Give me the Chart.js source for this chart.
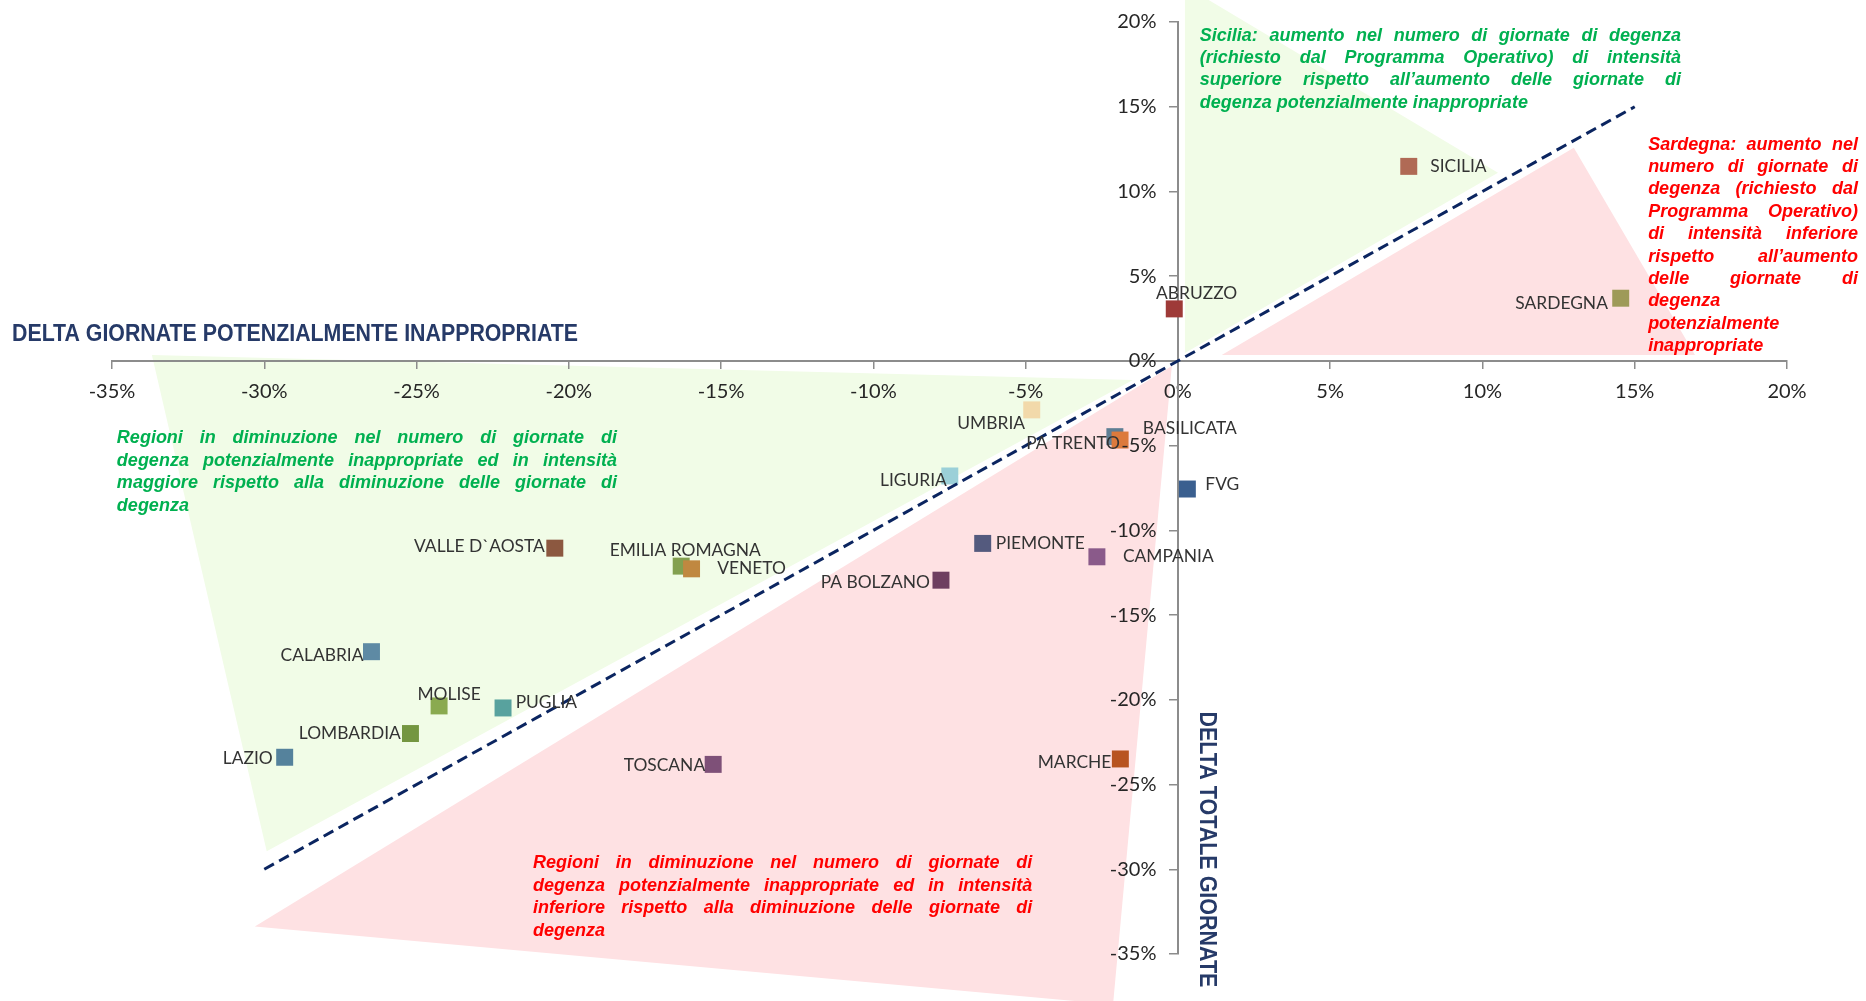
<!DOCTYPE html>
<html><head><meta charset="utf-8">
<script src="https://cdn.jsdelivr.net/npm/chart.js@4"></script>
<style>html,body{margin:0;padding:0;background:#fff}#wrap{width:1866px;height:1001px;position:relative}</style>
</head><body><div id="wrap"><canvas id="c"></canvas></div>
<script>
// ---- data ----
const regions = ['SICILIA','SARDEGNA','ABRUZZO','UMBRIA','BASILICATA','PA TRENTO','LIGURIA','FVG','PIEMONTE','CAMPANIA','PA BOLZANO','MARCHE','VALLE D`AOSTA','EMILIA ROMAGNA','VENETO','CALABRIA','MOLISE','PUGLIA','LOMBARDIA','LAZIO','TOSCANA'];
const deltaGiornateInappropriate = [7.58,14.54,-0.12,-4.80,-2.07,-1.90,-7.49,0.31,-6.41,-2.66,-7.78,-1.89,-20.46,-16.31,-15.97,-26.48,-24.26,-22.16,-25.20,-29.33,-15.26];
const deltaTotaleGiornate = [11.48,3.70,3.07,-2.89,-4.47,-4.67,-6.79,-7.56,-10.77,-11.56,-12.94,-23.49,-11.05,-12.11,-12.27,-17.16,-20.36,-20.48,-21.99,-23.39,-23.81];
const regionColors = ['#B06A55','#9E9A58','#9E3A38','#F2D9AA','#5E7E94','#DC7A3C','#9BD0D8','#3A5F8F','#545A7E','#8A5A8A','#6E3E60','#B85420','#8C5840','#83A050','#C08840','#5E8AA4','#8AAA50','#58A29E','#749640','#55829C','#7E5078'];
const tickValues = [-35,-30,-25,-20,-15,-10,-5,0,5,10,15,20];
const bisectorX = [-30, 15];
const bisectorY = [-30, 15];
// shaded zones (data units, %)
const zoneGreenLeft = [[-33.69,0.35],[-1.48,-1.12],[-29.92,-28.94]];
const zoneGreenTop = [[0.23,21.32],[0.99,21.32],[10.51,11.10],[0.23,0.47]];
const zonePinkRight = [[13.0,12.58],[1.44,0.35],[16.98,0.35]];
const zonePinkBottom = [[-0.20,-0.30],[-30.31,-33.37],[-2.13,-37.98]];

// ---- label placement (style) ----
const labelPlacement = [
 ['left',21.5,0],['right',-12.8,5],['center',22.4,-15.7],['right',-6.7,14],['left',28,-8],['right',0,3],
 ['right',-3,4],['left',18,-5],['left',13,0],['left',26,0],['right',-11,2],['right',-9,3],
 ['right',-10,-2],['center',4,-16],['left',25.6,0],['right',-8,4],['center',10,-12],['left',12.6,-6],
 ['right',-9.6,0],['right',-12,1],['right',-8,1]
];

const annGreenLeft = ['Regioni in diminuzione nel numero di giornate di','degenza potenzialmente inappropriate ed in intensità','maggiore rispetto alla diminuzione delle giornate di','degenza'];
const annRedBottom = ['Regioni in diminuzione nel numero di giornate di','degenza potenzialmente inappropriate ed in intensità','inferiore rispetto alla diminuzione delle giornate di','degenza'];
const annSicilia = ['Sicilia: aumento nel numero di giornate di degenza','(richiesto dal Programma Operativo) di intensità','superiore rispetto all’aumento delle giornate di','degenza potenzialmente inappropriate'];
const annSardegna = ['Sardegna: aumento nel','numero di giornate di','degenza (richiesto dal','Programma Operativo)','di intensità inferiore','rispetto all’aumento','delle giornate di','degenza','potenzialmente','inappropriate'];

const GREEN_TXT = '#00B050', RED_TXT = '#FF0000';
const ANN_FONT = "italic bold 18px 'Liberation Sans', Arial, sans-serif";
const LBL_FONT = "17.4px Lato, 'Open Sans', sans-serif";
const TICK_FONT_SIZE = 20;
const TITLE_COLOR = '#263A68';

function drawJustified(ctx, lines, x1, x2, yFirst, lh, color){
  ctx.save();
  ctx.font = ANN_FONT; ctx.fillStyle = color; ctx.textBaseline = 'middle'; ctx.textAlign = 'left';
  lines.forEach((line, i) => {
    const yy = yFirst + i*lh;
    const words = line.split(' ');
    if (i === lines.length-1 || words.length === 1) { ctx.fillText(line, x1, yy); return; }
    const ws = words.map(w => ctx.measureText(w).width);
    const gap = (x2 - x1 - ws.reduce((a,b)=>a+b,0)) / (words.length-1);
    let xx = x1;
    words.forEach((w,k) => { ctx.fillText(w, xx, yy); xx += ws[k] + gap; });
  });
  ctx.restore();
}

function fitText(ctx, text, w){
  const m = ctx.measureText(text).width;
  ctx.scale(w/m, 1);
  ctx.fillText(text, 0, 0);
}

const zonesPlugin = {
  id: 'zones',
  beforeDraw(chart){
    const {ctx} = chart; const xs = chart.scales.x, ys = chart.scales.y;
    ctx.save();
    [[zoneGreenLeft,'#F1FCE7'],[zoneGreenTop,'#F1FCE7'],[zonePinkRight,'#FEE1E3'],[zonePinkBottom,'#FEE1E3']].forEach(([pts,col]) => {
      ctx.beginPath();
      pts.forEach(([vx,vy],i) => { const px = xs.getPixelForValue(vx), py = ys.getPixelForValue(vy); if (i) ctx.lineTo(px,py); else ctx.moveTo(px,py); });
      ctx.closePath(); ctx.fillStyle = col; ctx.fill();
    });
    ctx.restore();
  },
  afterDraw(chart){
    const {ctx} = chart; const xs = chart.scales.x, ys = chart.scales.y;
    const x0 = xs.getPixelForValue(0), y0 = ys.getPixelForValue(0);
    // y tick labels
    ctx.save();
    ctx.font = TICK_FONT_SIZE + "px Lato, 'Open Sans', sans-serif";
    ctx.fillStyle = '#262626'; ctx.textAlign = 'right'; ctx.textBaseline = 'middle';
    ys.ticks.forEach(t => ctx.fillText(t.value + '%', x0 - 21.5, ys.getPixelForValue(t.value)));
    ctx.restore();
    // point labels
    const meta = chart.getDatasetMeta(1);
    ctx.save();
    ctx.font = LBL_FONT; ctx.fillStyle = '#333333'; ctx.textBaseline = 'middle';
    meta.data.forEach((el, i) => {
      const [al, dx, dy] = labelPlacement[i];
      ctx.textAlign = al === 'left' ? 'left' : (al === 'right' ? 'right' : 'center');
      ctx.fillText(regions[i], el.x + dx, el.y + dy);
    });
    ctx.restore();
    // annotations
    const lh = 22.4;
    drawJustified(ctx, annGreenLeft, xs.getPixelForValue(-34.84), xs.getPixelForValue(-18.42), ys.getPixelForValue(-4.57), lh, GREEN_TXT);
    drawJustified(ctx, annRedBottom, xs.getPixelForValue(-21.18), xs.getPixelForValue(-4.78), ys.getPixelForValue(-29.65), lh, RED_TXT);
    drawJustified(ctx, annSicilia, xs.getPixelForValue(0.72), xs.getPixelForValue(16.52), ys.getPixelForValue(19.2), lh, GREEN_TXT);
    drawJustified(ctx, annSardegna, xs.getPixelForValue(15.44), xs.getPixelForValue(22.33), ys.getPixelForValue(12.76), lh, RED_TXT);
    // axis titles
    ctx.save();
    ctx.font = "bold 23px 'Liberation Sans Narrow', 'Liberation Sans', Arial, sans-serif";
    ctx.fillStyle = TITLE_COLOR; ctx.textBaseline = 'middle'; ctx.textAlign = 'left';
    ctx.translate(12, y0 - 26);
    fitText(ctx, 'DELTA GIORNATE POTENZIALMENTE INAPPROPRIATE', 566);
    ctx.restore();
    ctx.save();
    ctx.font = "bold 23px 'Liberation Sans Narrow', 'Liberation Sans', Arial, sans-serif";
    ctx.fillStyle = TITLE_COLOR; ctx.textBaseline = 'middle'; ctx.textAlign = 'center';
    ctx.translate(x0 + 28.7, y0 + 488.5);
    ctx.rotate(Math.PI/2);
    fitText(ctx, 'DELTA TOTALE GIORNATE', 276);
    ctx.restore();
  }
};

const axisBase = {
  type: 'linear', min: -35, max: 20,
  grid: { drawOnChartArea: false, drawTicks: true, color: '#8C8C8C', lineWidth: 1.5 },
  border: { display: true, color: '#8C8C8C', width: 2 },
};

new Chart(document.getElementById('c'), {
  type: 'scatter',
  data: {
    datasets: [
      { type: 'line', data: bisectorX.map((v,i)=>({x:v, y:bisectorY[i]})), borderColor: '#0B2560', borderWidth: 3, borderDash: [11,6], pointRadius: 0, fill: false, tension: 0 },
      { type: 'scatter', data: deltaGiornateInappropriate.map((v,i)=>({x:v, y:deltaTotaleGiornate[i]})), pointStyle: 'rect', pointRadius: 12, pointHoverRadius: 12, backgroundColor: regionColors, borderColor: regionColors, borderWidth: 0 }
    ]
  },
  options: {
    responsive: true, maintainAspectRatio: false, animation: false,
    layout: { padding: { left: 112, right: 79, top: 22, bottom: 47 } },
    plugins: { legend: { display: false }, tooltip: { enabled: false } },
    events: [],
    scales: {
      x: Object.assign({}, axisBase, {
        position: { y: 0 },
        afterFit: s => { s.height = 0; },
        grid: Object.assign({}, axisBase.grid, { tickLength: 7 }),
        ticks: { stepSize: 5, padding: 12, color: '#262626', font: { family: "Lato, 'Open Sans', sans-serif", size: TICK_FONT_SIZE }, callback: v => v + '%', maxRotation: 0, autoSkip: false }
      }),
      y: Object.assign({}, axisBase, {
        position: { x: 0 },
        afterFit: s => { s.width = 0; },
        grid: Object.assign({}, axisBase.grid, { tickLength: 8 }),
        ticks: { stepSize: 5, display: false }
      })
    }
  },
  plugins: [zonesPlugin]
});
</script>
</body></html>
